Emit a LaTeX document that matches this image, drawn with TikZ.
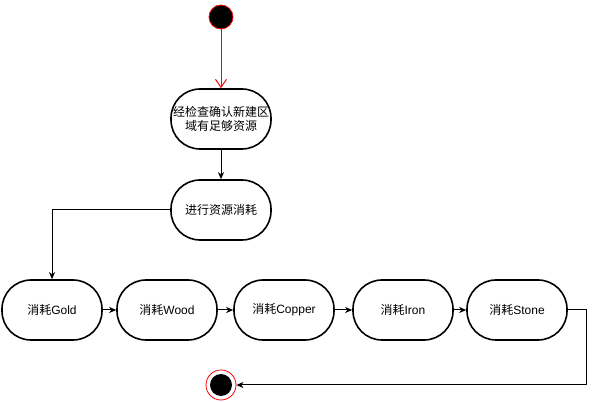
\documentclass[tikz,border=0pt]{standalone}
\usepackage{fontspec}
\setmainfont{Liberation Sans}
\newfontfamily\cjk{Noto Sans CJK SC}
\usetikzlibrary{arrows.meta}
\begin{document}
\begin{tikzpicture}[x=1pt,y=1pt,line width=1pt,>={Stealth[length=7pt,width=6pt,inset=2pt]},
  line join=round,font=\fontsize{12}{14}\selectfont,
  act/.style={draw,line width=1.6pt,rounded corners=29pt,minimum width=100pt,
    minimum height=60pt,align=center,inner sep=2pt}]
  \useasboundingbox (0,0) rectangle (595,402);
  % start and end
  \node[circle,draw=red,fill=black,line width=.8pt,minimum size=24pt,inner sep=0pt] (start) at (221,385) {};
  \node[circle,draw=red,line width=.8pt,minimum size=30pt,inner sep=0pt] (stop) at (221,17) {};
  \fill (stop.center) circle (11);
  % activities
  \node[act] (check) at (221,283) {\cjk 经检查确认新建区\\\cjk 域有足够资源};
  \node[act] (use) at (221,192) {\cjk 进行资源消耗};
  \node[act] (gold) at (52,92) {{\cjk 消耗}Gold};
  \node[act] (wood) at (167,92) {{\cjk 消耗}Wood};
  \node[act] (copper) at (284,92) {{\cjk 消耗}Copper};
  \node[act] (iron) at (403,92) {{\cjk 消耗}Iron};
  \node[act] (stone) at (517,92) {{\cjk 消耗}Stone};
  % flows
  \draw[red,-{Straight Barb[length=8pt,width=11pt]}] (start) -- (check);
  \draw[->] (check) -- (use);
  \draw[->] (use.west) -| (gold.north);
  \draw[->] (gold) -- (wood);
  \draw[->] (wood) -- (copper);
  \draw[->] (copper) -- (iron);
  \draw[->] (iron) -- (stone);
  \draw[->] (stone.east) -- ++(19,0) |- (stop.east);
\end{tikzpicture}
\end{document}
